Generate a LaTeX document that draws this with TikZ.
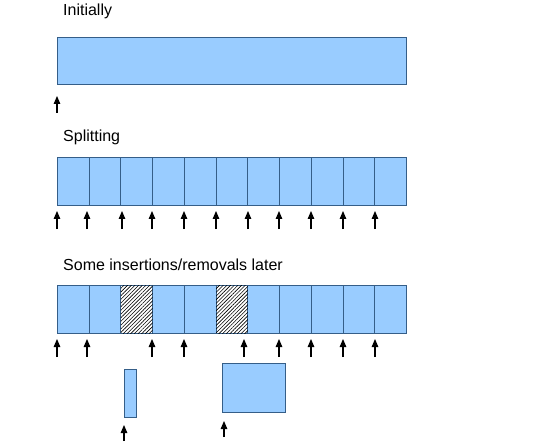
\documentclass[tikz,border=0pt]{standalone}
\usepackage{fontspec}
\setmainfont{Liberation Sans}
\usetikzlibrary{patterns.meta,arrows.meta}
\definecolor{cellfill}{HTML}{99CCFF}
\definecolor{celldraw}{HTML}{355E88}
\tikzset{
  lbl/.style={anchor=base west, inner sep=0pt, font=\fontsize{16}{19}\selectfont},
  cell/.style={draw=celldraw, fill=cellfill, line width=0.8pt, anchor=north west, inner sep=0pt, minimum width=31.727pt, minimum height=48pt},
  hatch/.style={draw=celldraw, fill=white, line width=0.8pt, anchor=north west, inner sep=0pt, minimum width=31.727pt, minimum height=48pt, postaction={pattern={Lines[angle=45,distance=2.6pt,line width=0.6pt]}}},
  ptr/.style={line width=1.1pt, -{Triangle[length=8pt,width=6.5pt]}}
}
\begin{document}
\begin{tikzpicture}[x=1pt,y=-1pt]
\useasboundingbox (0,0) rectangle (540,446);
% labels
\node[lbl] (l1) at (63,16) {Initially};
\node[lbl] (l2) at (63,142) {Splitting};
\node[lbl] (l3) at (63,270) {Some insertions/removals later};
% row 1
\node[cell, minimum width=349pt, minimum height=47pt] (whole) at (57,37) {};
\coordinate (a1s) at (57,113); \coordinate (a1e) at (57,96);
\draw[ptr] (a1s) -- (a1e);
% row 2
\foreach \i in {0,...,10} {
  \node[cell] (s\i) at ({57+\i*31.727},157) {};
}
\foreach \x [count=\k] in {57,87,122,152,184,216,248,279,311,343,375} {
  \coordinate (b\k s) at (\x,229); \coordinate (b\k e) at (\x,211);
  \draw[ptr] (b\k s) -- (b\k e);
}
% row 3
\foreach \i in {0,1,3,4,6,7,8,9,10} {
  \node[cell] (r\i) at ({57+\i*31.727},285) {};
}
\foreach \i in {2,5} {
  \node[hatch] (r\i) at ({57+\i*31.727},285) {};
}
\foreach \x [count=\k] in {57,87,152,184,244,279,311,343,375} {
  \coordinate (c\k s) at (\x,357); \coordinate (c\k e) at (\x,339);
  \draw[ptr] (c\k s) -- (c\k e);
}
% bottom blocks
\node[cell, minimum width=12pt, minimum height=48pt] (small) at (124,369) {};
\node[cell, minimum width=63pt, minimum height=49pt] (big) at (222,363) {};
\coordinate (d1s) at (124,441); \coordinate (d1e) at (124,425);
\draw[ptr] (d1s) -- (d1e);
\coordinate (d2s) at (224,437); \coordinate (d2e) at (224,421);
\draw[ptr] (d2s) -- (d2e);
\end{tikzpicture}
\end{document}
